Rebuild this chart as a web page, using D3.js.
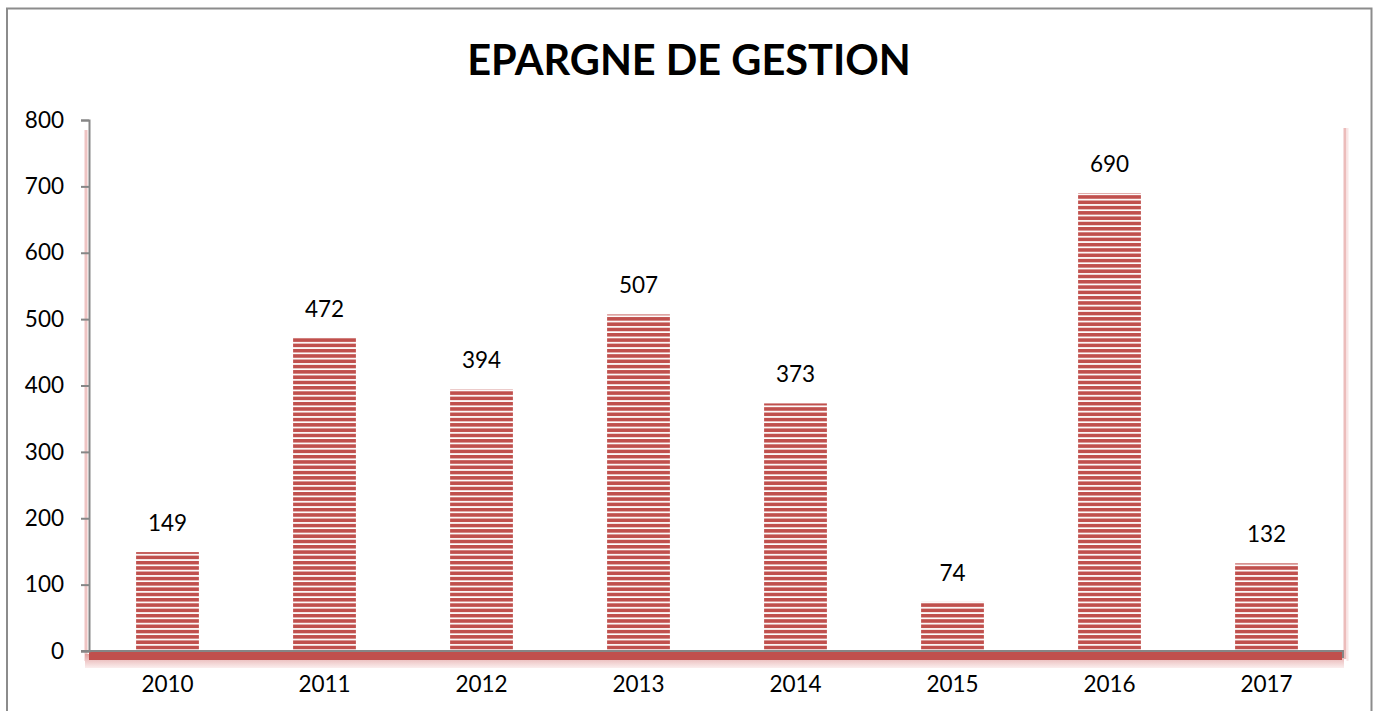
<!DOCTYPE html>
<html>
<head>
<meta charset="utf-8">
<script src="https://cdn.jsdelivr.net/npm/d3@7"></script>
<style>
  body { margin: 0; background: #fff; }
  svg { display: block; font-family: Lato, "Open Sans", sans-serif; }
</style>
</head>
<body>
<div id="chart"></div>
<script>
// values
var years = ["2010", "2011", "2012", "2013", "2014", "2015", "2016", "2017"];
var epargne = [149, 472, 394, 507, 373, 74, 690, 132];
var yTicks = [0, 100, 200, 300, 400, 500, 600, 700, 800];

var width = 1376, height = 711;
var plot = {left: 89, right: 1345, top: 120, bottom: 651};
var labelFont = 22.5;

var svg = d3.select("#chart").append("svg")
    .attr("width", width)
    .attr("height", height);

// striped fill for bars
var defs = svg.append("defs");
var pat = defs.append("pattern")
    .attr("id", "stripes")
    .attr("patternUnits", "userSpaceOnUse")
    .attr("width", 8).attr("height", 5.3)
    .attr("y", plot.bottom);
pat.append("rect").attr("width", 8).attr("height", 5.3).attr("fill", "#ffffff");
pat.append("rect").attr("width", 8).attr("height", 3.6).attr("fill", "#c0504d");

var floorGrad = defs.append("linearGradient")
    .attr("id", "floorShade").attr("x1", 0).attr("x2", 0).attr("y1", 0).attr("y2", 1);
floorGrad.append("stop").attr("offset", "0%").attr("stop-color", "#e2a3a2");
floorGrad.append("stop").attr("offset", "100%").attr("stop-color", "#fbeeee");

// outer frame
svg.append("path")
    .attr("d", "M7," + height + " V8.5 H1371.5 V" + height)
    .attr("fill", "none")
    .attr("stroke", "#8c8c8c")
    .attr("stroke-width", 2);

// title
svg.append("text")
    .attr("x", 689).attr("y", 75)
    .attr("text-anchor", "middle")
    .attr("font-size", 41.5)
    .attr("font-weight", "bold")
    .attr("fill", "#000")
    .text("EPARGNE DE GESTION");

var x = d3.scaleBand()
    .domain(years)
    .range([plot.left, plot.right])
    .paddingInner(0.6)
    .paddingOuter(0.3);

var y = d3.scaleLinear()
    .domain([0, 800])
    .range([plot.bottom, plot.top]);

// side walls (pale pink edges)
svg.append("rect")
    .attr("x", 84.5).attr("y", 130).attr("width", 3).attr("height", plot.bottom - 130 + 10)
    .attr("fill", "#efc4c3");
svg.append("rect")
    .attr("x", 1343.5).attr("y", 128).attr("width", 3).attr("height", plot.bottom - 128 + 8)
    .attr("fill", "#ecbcbb");
svg.append("rect")
    .attr("x", 1346.5).attr("y", 128).attr("width", 2).attr("height", plot.bottom - 128 + 10)
    .attr("fill", "#f9e6e6");

// floor
svg.append("rect")
    .attr("x", plot.left - 4).attr("y", plot.bottom + 3)
    .attr("width", plot.right - plot.left + 3).attr("height", 14)
    .attr("fill", "url(#floorShade)");
svg.append("rect")
    .attr("x", plot.left).attr("y", plot.bottom)
    .attr("width", plot.right - plot.left - 3).attr("height", 9)
    .attr("fill", "#c0504d");

// bars
svg.selectAll("rect.bar")
    .data(epargne)
    .enter()
    .append("rect")
    .attr("class", "bar")
    .attr("x", (d, i) => x(years[i]))
    .attr("y", d => y(d))
    .attr("width", x.bandwidth())
    .attr("height", d => plot.bottom - y(d))
    .attr("fill", "url(#stripes)");

// value labels
svg.selectAll("text.val")
    .data(epargne)
    .enter()
    .append("text")
    .attr("class", "val")
    .attr("x", (d, i) => x(years[i]) + x.bandwidth() / 2)
    .attr("y", d => y(d) - 21)
    .attr("text-anchor", "middle")
    .attr("font-size", labelFont)
    .attr("fill", "#000")
    .text(d => d);

// y axis
var yAxis = svg.append("g")
    .attr("transform", "translate(" + plot.left + ",0)")
    .call(d3.axisLeft(y).tickValues(yTicks).tickSize(8).tickPadding(17));
yAxis.select(".domain").attr("stroke", "#868686").attr("stroke-width", 2);
yAxis.selectAll(".tick line").attr("stroke", "#868686").attr("stroke-width", 2);
yAxis.selectAll(".tick text")
    .attr("font-size", labelFont)
    .attr("font-family", "Lato, 'Open Sans', sans-serif")
    .attr("fill", "#000");

// x axis
var xAxis = svg.append("g")
    .attr("transform", "translate(0," + plot.bottom + ")")
    .call(d3.axisBottom(x).tickSize(0).tickPadding(25));
xAxis.select(".domain").remove();
xAxis.selectAll(".tick text")
    .attr("font-size", labelFont)
    .attr("font-family", "Lato, 'Open Sans', sans-serif")
    .attr("fill", "#000");
svg.append("path")
    .attr("d", "M" + (plot.left - 8) + "," + plot.bottom + " H" + (plot.right - 2) + " v7")
    .attr("fill", "none")
    .attr("stroke", "#868686")
    .attr("stroke-width", 2);
</script>
</body>
</html>
